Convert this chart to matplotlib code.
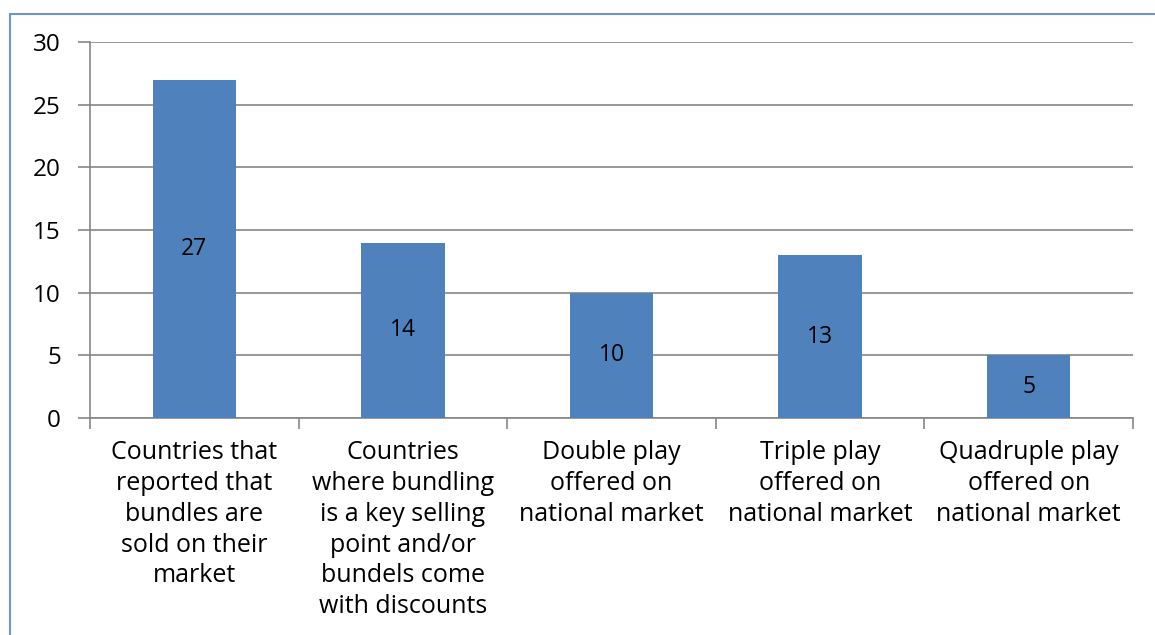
import matplotlib.pyplot as plt
from matplotlib.patches import Rectangle

categories = [
    "Countries that\nreported that\nbundles are\nsold on their\nmarket",
    "Countries\nwhere bundling\nis a key selling\npoint and/or\nbundels come\nwith discounts",
    "Double play\noffered on\nnational market",
    "Triple play\noffered on\nnational market",
    "Quadruple play\noffered on\nnational market",
]
values = [27, 14, 10, 13, 5]
y_ticks = [0, 5, 10, 15, 20, 25, 30]

BAR_COLOR = "#4F81BD"
GRID_COLOR = "#868686"
plt.rcParams["font.family"] = ["Open Sans", "DejaVu Sans"]

fig = plt.figure(figsize=(11.55, 6.35), dpi=100)
fig.patches.append(Rectangle((10 / 1155, -0.1), 1.2, 1.1 - 14 / 635, transform=fig.transFigure,
                             fill=False, edgecolor="#6E96C8", linewidth=1.5))

ax = fig.add_axes([90 / 1155, 1 - 418 / 635, (1133 - 90) / 1155, (418 - 42) / 635])
x = list(range(len(values)))
bars = ax.bar(x, values, width=0.4, color=BAR_COLOR, zorder=3)
for xi, v in zip(x, values):
    ax.text(xi, v / 2, str(v), ha="center", va="center", fontsize=16.5, zorder=4)

ax.set_xlim(-0.5, len(values) - 0.5)
ax.set_ylim(0, 30)
ax.set_yticks(y_ticks)
ax.yaxis.grid(True, color=GRID_COLOR, linewidth=1.2, zorder=0)
for side in ["top", "right"]:
    ax.spines[side].set_visible(False)
for side in ["left", "bottom"]:
    ax.spines[side].set_color(GRID_COLOR)
    ax.spines[side].set_linewidth(1.2)

ax.tick_params(axis="y", length=9, width=1.2, color=GRID_COLOR, labelsize=17.5, pad=12)
ax.set_xticks([i - 0.5 for i in range(len(values) + 1)])
ax.set_xticklabels([])
ax.tick_params(axis="x", length=8, width=1.2, color=GRID_COLOR)
for xi, label in zip(x, categories):
    ax.text(xi, -1.75, label, ha="center", va="top", fontsize=18, linespacing=1.31)

fig.savefig("out.png", dpi=100)
